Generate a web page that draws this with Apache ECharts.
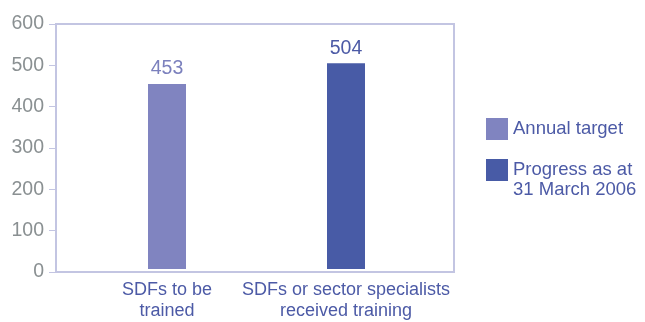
<!DOCTYPE html>
<html>
<head>
<meta charset="utf-8">
<script src="https://cdn.jsdelivr.net/npm/echarts@6/dist/echarts.min.js"></script>
<style>html,body{margin:0;padding:0;background:#fff;}#c{width:645px;height:322px;}</style>
</head>
<body>
<div id="c"></div>
<script>
const categories = ['SDFs to be\ntrained', 'SDFs or sector specialists\nreceived training'];
const seriesNames = ['Annual target', 'Progress as at\n31 March 2006'];
const annualTarget = [453, '-'];
const progress = ['-', 504];
const yTicks = [0, 100, 200, 300, 400, 500, 600];

const FONT = '"Liberation Sans", Arial, sans-serif';
const chart = echarts.init(document.getElementById('c'), null, {renderer: 'canvas'});
const legendBase = {
  orient: 'vertical', left: 481, itemWidth: 22, itemHeight: 22, icon: 'rect',
  textStyle: {color: '#4c5aa6', fontSize: 18.5, fontFamily: FONT, lineHeight: 20}
};
chart.setOption({
  animation: false,
  backgroundColor: '#fff',
  grid: [
    {left: 56, right: 191, top: 24, bottom: 50, show: true, borderColor: '#c3c5e2', borderWidth: 2, backgroundColor: 'transparent'},
    {left: 77.5, right: 209.5, top: 24, bottom: 50}
  ],
  xAxis: [
    {gridIndex: 0, type: 'category', data: categories, show: false},
    {gridIndex: 1, type: 'category', data: categories,
     axisLine: {show: false}, axisTick: {show: false},
     axisLabel: {color: '#4c5aa6', fontSize: 18, fontFamily: FONT, lineHeight: 21, margin: 11, interval: 0}}
  ],
  yAxis: [
    {gridIndex: 0, type: 'value', min: yTicks[0], max: yTicks[yTicks.length-1], interval: 100,
     axisLine: {show: true, lineStyle: {color: '#c3c5e2', width: 2}},
     axisTick: {show: true, length: 7, lineStyle: {color: '#c3c5e2', width: 1}},
     splitLine: {show: false},
     axisLabel: {color: '#8a9092', fontSize: 19.5, fontFamily: FONT, margin: 12}},
    {gridIndex: 1, type: 'value', min: yTicks[0], max: yTicks[yTicks.length-1], show: false, splitLine: {show: false}}
  ],
  legend: [
    Object.assign({}, legendBase, {top: 113, data: [seriesNames[0]]}),
    Object.assign({}, legendBase, {top: 135, data: [seriesNames[1]],
      formatter: function (name) { return '\n' + name; }})
  ],
  series: [
    {name: seriesNames[0], type: 'bar', xAxisIndex: 1, yAxisIndex: 1, data: annualTarget,
     barWidth: 38, barGap: '-100%', itemStyle: {color: '#8084c0'},
     label: {show: true, position: 'top', distance: 5, color: '#7b80bd', fontSize: 19.5, fontFamily: FONT}},
    {name: seriesNames[1], type: 'bar', xAxisIndex: 1, yAxisIndex: 1, data: progress,
     barWidth: 38, barGap: '-100%', itemStyle: {color: '#485ba6'},
     label: {show: true, position: 'top', distance: 5, color: '#4c5aa6', fontSize: 19.5, fontFamily: FONT}}
  ]
});
</script>
</body>
</html>
